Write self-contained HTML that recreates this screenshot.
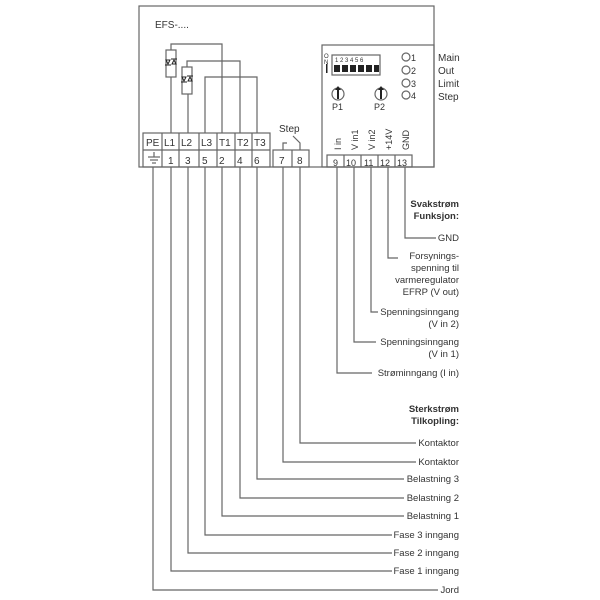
<!DOCTYPE html>
<html><head><meta charset="utf-8"><style>
html,body{margin:0;padding:0;background:#fff;}
svg{display:block;font-family:"Liberation Sans",sans-serif;}
</style></head><body>
<svg width="600" height="600" viewBox="0 0 600 600" xmlns="http://www.w3.org/2000/svg">
<g fill="none" stroke="#666" stroke-width="1.2">
<rect x="139" y="6" width="295" height="161"/>
<rect x="322" y="45" width="112" height="122"/>
<rect x="143" y="133" width="127" height="34"/>
<line x1="143" y1="150" x2="270" y2="150"/>
<line x1="162" y1="133" x2="162" y2="167"/>
<line x1="179" y1="133" x2="179" y2="167"/>
<line x1="199" y1="133" x2="199" y2="167"/>
<line x1="217" y1="133" x2="217" y2="167"/>
<line x1="235" y1="133" x2="235" y2="167"/>
<line x1="252" y1="133" x2="252" y2="167"/>
<rect x="273" y="150" width="36" height="17"/>
<line x1="292" y1="150" x2="292" y2="167"/>
<rect x="327" y="155" width="85" height="12"/>
<line x1="344" y1="155" x2="344" y2="167"/>
<line x1="361" y1="155" x2="361" y2="167"/>
<line x1="378" y1="155" x2="378" y2="167"/>
<line x1="395" y1="155" x2="395" y2="167"/>
<rect x="166" y="50" width="10" height="27"/>
<rect x="182" y="67" width="10" height="27"/>
<polyline points="171,133 171,77"/>
<polyline points="171,50 171,44 222,44 222,133"/>
<polyline points="188,133 188,94"/>
<polyline points="187,67 187,61 240,61 240,133"/>
<polyline points="205,133 205,77 257,77 257,133"/>
<polyline points="283,150 283,143 287,143"/>
<polyline points="300,150 300,143 293,136"/>
<line x1="148" y1="157" x2="160" y2="157"/>
<line x1="150" y1="160" x2="158" y2="160"/>
<line x1="152" y1="163" x2="156" y2="163"/>
<line x1="154" y1="152" x2="154" y2="157"/>
<polyline points="405,167 405,238 436,238"/>
<polyline points="388,167 388,258 398,258"/>
<polyline points="371,167 371,312 378,312"/>
<polyline points="354,167 354,342 376,342"/>
<polyline points="337,167 337,373 372,373"/>
<polyline points="300,167 300,443 416,443"/>
<polyline points="283,167 283,462 416,462"/>
<polyline points="257,167 257,479 404,479"/>
<polyline points="240,167 240,498 404,498"/>
<polyline points="222,167 222,516 404,516"/>
<polyline points="205,167 205,535 392,535"/>
<polyline points="188,167 188,553 392,553"/>
<polyline points="171,167 171,571 392,571"/>
<polyline points="153,167 153,590 438,590"/>
<circle cx="406" cy="57" r="4"/>
<circle cx="406" cy="70" r="4"/>
<circle cx="406" cy="83" r="4"/>
<circle cx="406" cy="95" r="4"/>
<circle cx="338" cy="94" r="6"/>
<circle cx="381" cy="94" r="6"/>
<rect x="332" y="55" width="48" height="20"/>
</g>
<g stroke="#222" stroke-width="1" fill="#fff">
<path d="M166 60 l4 0 l-2 4 z M172 64 l4 0 l-2 -4 z"/>
<path d="M182 77 l4 0 l-2 4 z M188 81 l4 0 l-2 -4 z"/>
<path d="M165 65 h6 M171 59 h6 M181 82 h6 M187 76 h6" fill="none"/>
</g>
<g fill="#222">
<rect x="334" y="65" width="6" height="7"/><rect x="342" y="65" width="6" height="7"/><rect x="350" y="65" width="6" height="7"/><rect x="358" y="65" width="6" height="7"/><rect x="366" y="65" width="6" height="7"/><rect x="374" y="65" width="5" height="7"/>
<rect x="337" y="89" width="2" height="10"/><rect x="380" y="89" width="2" height="10"/>
<path d="M338 86 l-3 4 h6z M381 86 l-3 4 h6z"/>
<rect x="326" y="64" width="1.5" height="9"/>
</g>
<g fill="#333" font-size="10">
<text x="155" y="28" font-size="10">EFS-....</text>
<text x="146" y="146">PE</text><text x="164" y="146">L1</text><text x="181" y="146">L2</text><text x="201" y="146">L3</text><text x="219" y="146">T1</text><text x="237" y="146">T2</text><text x="254" y="146">T3</text>
<text x="168" y="164">1</text><text x="185" y="164">3</text><text x="202" y="164">5</text><text x="219" y="164">2</text><text x="237" y="164">4</text><text x="254" y="164">6</text>
<text x="279" y="164">7</text><text x="297" y="164">8</text>
<text x="279" y="132">Step</text>
<text x="333" y="166" font-size="9">9</text><text x="346" y="166" font-size="9">10</text><text x="364" y="166" font-size="9">11</text><text x="380" y="166" font-size="9">12</text><text x="397" y="166" font-size="9">13</text>
<text transform="translate(341,150) rotate(-90)" font-size="9">I in</text>
<text transform="translate(358,150) rotate(-90)" font-size="9">V in1</text>
<text transform="translate(375,150) rotate(-90)" font-size="9">V in2</text>
<text transform="translate(392,150) rotate(-90)" font-size="9">+14V</text>
<text transform="translate(409,150) rotate(-90)" font-size="9">GND</text>
<text x="332" y="110" font-size="9">P1</text><text x="374" y="110" font-size="9">P2</text>
<text x="335" y="62" font-size="6">1 2 3 4 5 6</text>
<text x="324" y="58" font-size="6">O</text><text x="324" y="64" font-size="6">N</text>
<text x="411" y="61" font-size="9">1</text><text x="411" y="74" font-size="9">2</text><text x="411" y="87" font-size="9">3</text><text x="411" y="99" font-size="9">4</text>
<text x="438" y="61">Main</text><text x="438" y="74">Out</text><text x="438" y="87">Limit</text><text x="438" y="100">Step</text>
</g>
<g fill="#333" font-size="9.5" text-anchor="end">
<text x="459" y="207" font-weight="bold">Svakstrøm</text>
<text x="459" y="219" font-weight="bold">Funksjon:</text>
<text x="459" y="241">GND</text>
<text x="459" y="259">Forsynings-</text>
<text x="459" y="271">spenning til</text>
<text x="459" y="283">varmeregulator</text>
<text x="459" y="295">EFRP (V out)</text>
<text x="459" y="315">Spenningsinngang</text>
<text x="459" y="327">(V in 2)</text>
<text x="459" y="345">Spenningsinngang</text>
<text x="459" y="357">(V in 1)</text>
<text x="459" y="376">Strøminngang (I in)</text>
<text x="459" y="412" font-weight="bold">Sterkstrøm</text>
<text x="459" y="424" font-weight="bold">Tilkopling:</text>
<text x="459" y="446">Kontaktor</text>
<text x="459" y="465">Kontaktor</text>
<text x="459" y="482">Belastning 3</text>
<text x="459" y="501">Belastning 2</text>
<text x="459" y="519">Belastning 1</text>
<text x="459" y="538">Fase 3 inngang</text>
<text x="459" y="556">Fase 2 inngang</text>
<text x="459" y="574">Fase 1 inngang</text>
<text x="459" y="593">Jord</text>
</g>
</svg>
</body></html>
